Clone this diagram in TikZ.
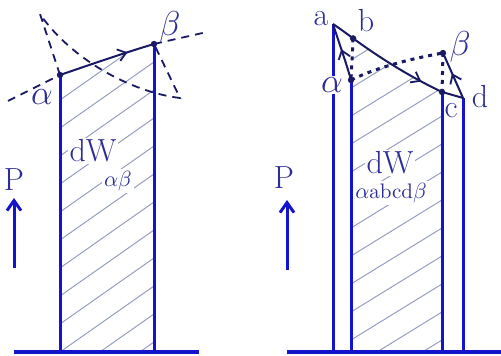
\documentclass[tikz,border=0pt]{standalone}
\usepackage{tikz}
\usetikzlibrary{arrows.meta,decorations.markings}
\definecolor{penblue}{RGB}{20,20,205}
\definecolor{inkblue}{RGB}{45,45,150}
\definecolor{darkink}{RGB}{25,25,100}
\definecolor{hatchgray}{RGB}{150,158,192}

\begin{document}
\begin{tikzpicture}[x=0.5pt, y=-0.5pt,
    wall/.style={penblue, line width=1.5pt},
    ground/.style={penblue, line width=2pt},
    hatching/.style={hatchgray, line width=0.5pt},
    guide/.style={darkink, line width=0.9pt, dash pattern=on 4pt off 3pt},
    dotline/.style={darkink, line width=1.5pt, dash pattern=on 2pt off 2.5pt},
    cycleline/.style={darkink, line width=1pt},
    midarrow/.style={postaction={decorate}, decoration={markings,
        mark=at position #1 with {\arrow{Straight Barb[length=4pt, width=6pt, line width=0.9pt]}}}},
    lab/.style={inkblue, font=\fontsize{16}{18}\selectfont},
    sublab/.style={inkblue, font=\fontsize{10.5}{12}\selectfont},
    point/.style={darkink}]
    \useasboundingbox (0,0) rectangle (501,356);

    % left: one step alpha -> beta
    \coordinate (alphaL) at (60,75);
    \coordinate (betaL) at (154,44);
    \coordinate (groundL1) at (14,352);
    \coordinate (groundL2) at (199,352);
    \coordinate (tipL) at (40,14);
    \coordinate (lowL) at (180,98);
    \coordinate (farL) at (8,101);
    \coordinate (farR) at (207,32);
    \coordinate (pLfoot) at (14,268);
    \coordinate (pLhead) at (14,198);

    \begin{scope}
        \clip (alphaL) .. controls (92,64) and (124,53) .. (betaL) -- (betaL |- groundL1) -- (alphaL |- groundL1) -- cycle;
        \foreach \y in {100,128,...,480}
            \draw[hatching] (60,\y) -- ++(94,-66);
    \end{scope}

    \draw[wall] (alphaL) -- (alphaL |- groundL1);
    \draw[wall] (betaL) -- (betaL |- groundL1);
    \draw[ground] (groundL1) -- (groundL2);
    \draw[guide] (farL) -- (alphaL);
    \draw[guide] (betaL) -- (farR);
    \draw[guide] (alphaL) -- (tipL) .. controls (70,58) and (130,92) .. (lowL) -- (betaL);
    \draw[cycleline, midarrow=0.72] (alphaL) .. controls (92,64) and (124,53) .. (betaL);
    \fill[point] (alphaL) circle (1.6pt);
    \fill[point] (betaL) circle (1.6pt);

    \node[lab] (alphaLab) at (42,97) {$\alpha$};
    \node[lab] (betaLab) at (170,27) {$\beta$};
    \node[lab, fill=white, inner sep=1pt] (workL) at (93,151) {dW};
    \node[sublab, fill=white, inner sep=1pt] (workLsub) at (118,181) {$\alpha\beta$};
    \node[lab] (pL) at (14,180) {P};
    \draw[wall, -{Straight Barb[length=5pt, width=7pt]}] (pLfoot) -- (pLhead);

    % right: detour alpha -> a -> b -> c -> d -> beta
    \coordinate (aR) at (333,24);
    \coordinate (bR) at (353.1,38.4);
    \coordinate (alphaR) at (351,80);
    \coordinate (betaR) at (443,53);
    \coordinate (cR) at (442,92);
    \coordinate (dR) at (463,98);
    \coordinate (groundR1) at (287,352);
    \coordinate (groundR2) at (501,352);
    \coordinate (pRfoot) at (287,270);
    \coordinate (pRhead) at (287,200);

    \begin{scope}
        \clip (bR) .. controls (379.3,57.4) and (408.4,76) .. (cR) -- (cR |- groundR1) -- (alphaR |- groundR1) -- (351,38) -- cycle;
        \foreach \y in {60,88,...,480}
            \draw[hatching] (351,\y) -- ++(91,-56);
    \end{scope}

    \draw[wall] (aR) -- (aR |- groundR1);
    \draw[wall] (alphaR) -- (alphaR |- groundR1);
    \draw[wall] (cR) -- (cR |- groundR1);
    \draw[wall] (dR) -- (dR |- groundR1);
    \draw[ground] (groundR1) -- (groundR2);
    \draw[dotline] (alphaR) .. controls (380,66) and (415,58) .. (betaR);
    \draw[dotline] (bR) -- (alphaR);
    \draw[dotline] (betaR) -- (cR);
    \draw[cycleline, midarrow=0.55] (alphaR) .. controls (346,62) and (338,40) .. (aR);
    \draw[cycleline, midarrow=0.82] (aR) .. controls (340.2,28.8) and (346.6,33.6) .. (bR)
        .. controls (379.3,57.4) and (408.4,76) .. (cR);
    \draw[cycleline] (cR) -- (dR);
    \draw[cycleline, midarrow=0.55] (dR) -- (betaR);
    \foreach \p in {bR,alphaR,betaR,cR}
        \fill[point] (\p) circle (1.6pt);

    \node[lab] (aLab) at (321,19) {a};
    \node[lab] (bLab) at (366,21) {b};
    \node[lab, fill=white, inner sep=1pt] (alphaRLab) at (332,85) {$\alpha$};
    \node[lab] (betaRLab) at (460,47) {$\beta$};
    \node[lab] (cLab) at (451,111) {c};
    \node[lab] (dLab) at (480,97) {d};
    \node[lab, fill=white, inner sep=1pt] (workR) at (390,163) {dW};
    \node[sublab, fill=white, inner sep=1pt] (workRsub) at (391,193) {$\alpha$abcd$\beta$};
    \node[lab] (pR) at (284,178) {P};
    \draw[wall, -{Straight Barb[length=5pt, width=7pt]}] (pRfoot) -- (pRhead);
\end{tikzpicture}
\end{document}
